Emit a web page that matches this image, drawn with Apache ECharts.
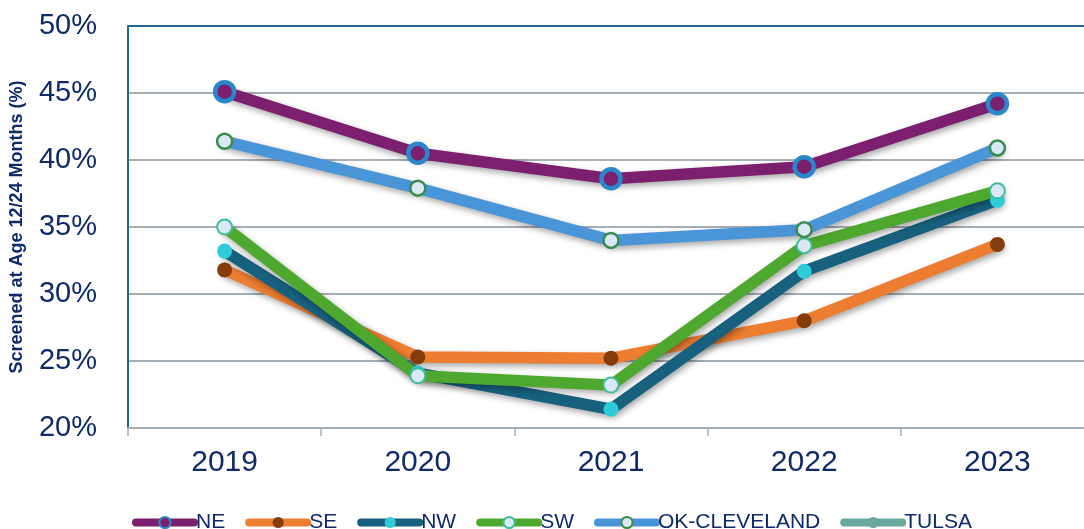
<!DOCTYPE html>
<html>
<head>
<meta charset="utf-8">
<script src="https://cdn.jsdelivr.net/npm/echarts@6/dist/echarts.min.js"></script>
<style>
html,body{margin:0;padding:0;background:#fff;overflow:hidden;}
#c{width:1094px;height:529px;}
</style>
</head>
<body>
<div id="c"></div>
<script>
const years = ['2019', '2020', '2021', '2022', '2023'];
const neValues = [45.1, 40.5, 38.6, 39.5, 44.2];
const seValues = [31.8, 25.3, 25.2, 28.0, 33.7];
const nwValues = [33.2, 24.1, 21.4, 31.7, 37.0];
const swValues = [35.0, 23.9, 23.2, 33.6, 37.7];
const okClevelandValues = [41.4, 37.9, 34.0, 34.8, 40.9];
const tulsaValues = [null, null, null, null, null];
const yTicks = { min: 20, max: 50, interval: 5 };

const FONT = "'Liberation Sans', Arial, sans-serif";
const NAVY = '#0f2a6b';
const shadow = { shadowColor: 'rgba(0,0,0,0.35)', shadowBlur: 6, shadowOffsetX: 2, shadowOffsetY: 3 };

function mkSeries(name, data, lineColor, fill, border, borderWidth, size) {
  return {
    name: name,
    type: 'line',
    data: data,
    symbol: 'circle',
    symbolSize: size,
    showSymbol: true,
    connectNulls: false,
    lineStyle: Object.assign({ color: lineColor, width: 11.5, cap: 'round', join: 'round' }, shadow),
    itemStyle: { color: fill, borderColor: border || fill, borderWidth: borderWidth || 0 },
    emphasis: { disabled: true },
    animation: false
  };
}

const chart = echarts.init(document.getElementById('c'));
chart.setOption({
  backgroundColor: '#ffffff',
  animation: false,
  grid: { left: 128, top: 26, width: 966, height: 402, containLabel: false },
  legend: {
    left: 127, top: 507,
    itemWidth: 58, itemHeight: 14, itemGap: 20,
    lineStyle: { width: 8, cap: 'round' },
    textStyle: { color: NAVY, fontSize: 21, fontFamily: FONT, padding: [0, 0, 0, -3] },
    data: ['NE', 'SE', 'NW', 'SW', 'OK-CLEVELAND', 'TULSA']
  },
  xAxis: {
    type: 'category',
    data: years,
    boundaryGap: true,
    axisLine: { show: true, lineStyle: { color: '#a6aeb6', width: 2 } },
    axisTick: { show: true, length: 8, lineStyle: { color: '#a6aeb6', width: 1.5 } },
    axisLabel: { color: NAVY, fontSize: 30, fontFamily: FONT, margin: 20 },
    splitLine: { show: false }
  },
  yAxis: {
    type: 'value',
    min: yTicks.min, max: yTicks.max, interval: yTicks.interval,
    name: 'Screened at Age 12/24 Months (%)',
    nameLocation: 'middle',
    nameGap: 102,
    nameTextStyle: { color: NAVY, fontSize: 18, fontWeight: 'bold', fontFamily: FONT },
    axisLine: { show: true, lineStyle: { color: '#1f6a8a', width: 2 } },
    axisTick: { show: false },
    axisLabel: { color: NAVY, fontSize: 29, fontFamily: FONT, margin: 31, formatter: '{value}%' },
    splitLine: { show: true, lineStyle: { color: ['#a6aeb6', '#a6aeb6', '#a6aeb6', '#a6aeb6', '#a6aeb6', '#a6aeb6', '#1f6a8a'], width: 2 } }
  },
  series: [
    mkSeries('NE', neValues, '#7b1f6e', '#7b1f6e', '#2a87cc', 4.5, 19),
    mkSeries('SE', seValues, '#ed7d31', '#843c0c', null, 0, 15),
    mkSeries('NW', nwValues, '#17617f', '#2ecbd9', null, 0, 15),
    mkSeries('SW', swValues, '#4ea72e', '#dce8f5', '#3fbe9a', 2, 15),
    mkSeries('OK-CLEVELAND', okClevelandValues, '#4a94d8', '#dce8f5', '#3a8c4c', 2.5, 15),
    mkSeries('TULSA', tulsaValues, '#68a89e', '#68a89e', null, 0, 15)
  ]
});
</script>
</body>
</html>
